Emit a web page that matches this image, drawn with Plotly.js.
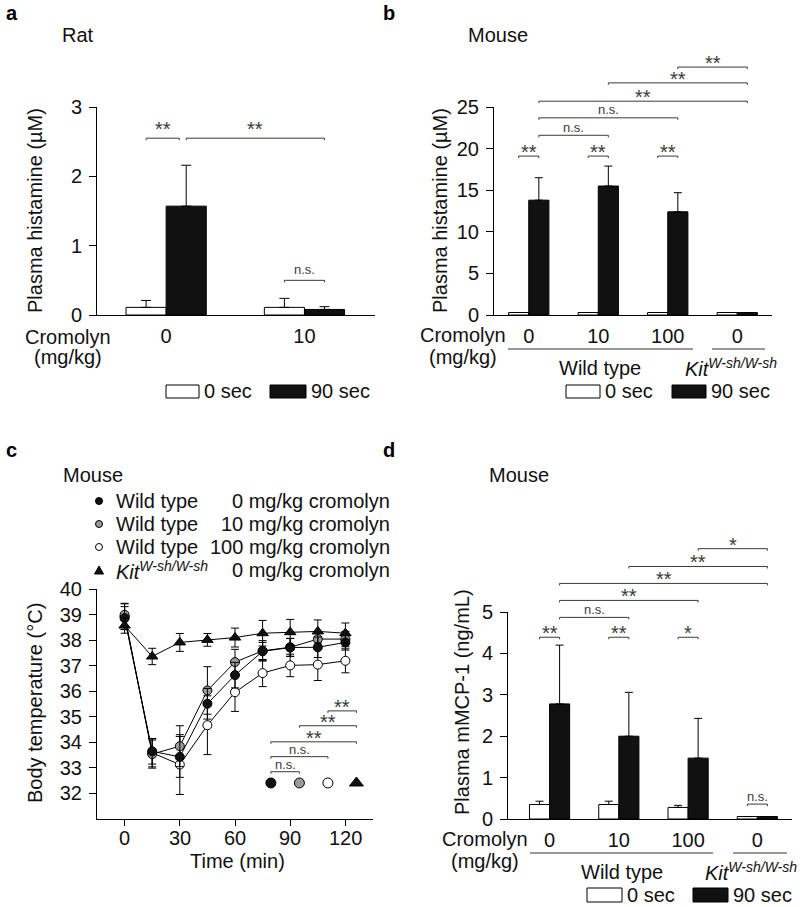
<!DOCTYPE html>
<html><head><meta charset="utf-8">
<script src="https://cdn.plot.ly/plotly-3.0.1.min.js"></script>
<style>html,body{margin:0;padding:0;background:#fff}</style>
</head><body><div id="chart" style="width:800px;height:907px"></div>
<script>
// ---------- Panel a: Rat plasma histamine (µM) ----------
const ratDoseLabels = ['0', '10'];
const ratHist0 = [0.11, 0.11];
const ratHist0Err = [0.10, 0.13];
const ratHist90 = [1.57, 0.08];
const ratHist90Err = [0.59, 0.04];

// ---------- Panel b: Mouse plasma histamine (µM) ----------
const mouseDoseLabels = ['0', '10', '100', '0'];
const mouseHist0 = [0.3, 0.3, 0.3, 0.3];
const mouseHist90 = [13.8, 15.5, 12.4, 0.3];
const mouseHist90Err = [2.7, 2.4, 2.3, 0];

// ---------- Panel c: Body temperature (°C) ----------
const timeMin = [0, 15, 30, 45, 60, 75, 90, 105, 120];
const timeTicks = [0, 30, 60, 90, 120];
const tempWT0 = [38.86, 33.65, 33.43, 35.51, 36.63, 37.56, 37.71, 37.72, 37.91];
const tempWT0Err = [0.45, 0.5, 0.8, 0.6, 0.5, 0.35, 0.35, 0.4, 0.3];
const tempWT10 = [38.99, 33.54, 33.85, 36.03, 37.14, 37.58, 37.72, 38.04, 38.04];
const tempWT10Err = [0.45, 0.55, 0.8, 0.93, 0.5, 0.4, 0.35, 0.3, 0.3];
const tempWT100 = [38.92, 33.59, 33.13, 34.67, 35.96, 36.71, 37.01, 37.04, 37.19];
const tempWT100Err = [0.5, 0.55, 1.17, 1.15, 0.75, 0.53, 0.44, 0.62, 0.47];
const tempKit = [38.57, 37.36, 37.91, 38.01, 38.10, 38.27, 38.31, 38.34, 38.27];
const tempKitErr = [0.3, 0.32, 0.35, 0.25, 0.37, 0.5, 0.5, 0.45, 0.4];

// ---------- Panel d: Plasma mMCP-1 (ng/mL) ----------
const mcpDoseLabels = ['0', '10', '100', '0'];
const mcp0 = [0.35, 0.35, 0.28, 0.06];
const mcp0Err = [0.08, 0.08, 0.05, 0];
const mcp90 = [2.78, 2.0, 1.47, 0.06];
const mcp90Err = [1.42, 1.06, 0.96, 0];

// ---------- Significance brackets: [group, bar, group, bar, level, label] ----------
const sigA = [[0, 'w', 0, 'b', 2.55, '**'], [0, 'b', 1, 'b', 2.55, '**'], [1, 'w', 1, 'b', 0.5, 'n.s.']];
const sigB = [[0, 'w', 0, 'b', 19.1, '**'], [1, 'w', 1, 'b', 19.1, '**'], [2, 'w', 2, 'b', 19.1, '**'],
              [0, 'b', 1, 'b', 21.6, 'n.s.'], [0, 'b', 2, 'b', 23.7, 'n.s.'], [0, 'b', 3, 'b', 25.7, '**'],
              [1, 'b', 3, 'b', 27.9, '**'], [2, 'b', 3, 'b', 29.8, '**']];
const sigD = [[0, 'w', 0, 'b', 4.39, '**'], [1, 'w', 1, 'b', 4.39, '**'], [2, 'w', 2, 'b', 4.39, '*'],
              [3, 'w', 3, 'b', 0.36, 'n.s.'], [0, 'b', 1, 'b', 4.87, 'n.s.'], [0, 'b', 2, 'b', 5.28, '**'],
              [0, 'b', 3, 'b', 5.69, '**'], [1, 'b', 3, 'b', 6.1, '**'], [2, 'b', 3, 'b', 6.53, '*']];
// panel c: key symbols and comparisons between them: [key, key, level, label]
const keyTimes = [79.5, 95, 110.5, 126];
const keyLevel = 32.41;
const sigC = [[0, 1, 32.85, 'n.s.'], [0, 2, 33.44, 'n.s.'], [0, 3, 34.02, '**'], [1, 3, 34.65, '**'], [2, 3, 35.23, '**']];

// ---------- helpers ----------
const FONT = 'Liberation Sans, Arial, sans-serif';
const FS = 20;
const W = 800, H = 907;
const px = x => x / W;
const py = y => 1 - y / H;
const BARGAP = 0.42;
const half = (1 - BARGAP) / 4; // offset of each bar center from group center
const barX = (g, s) => g + (s === 'w' ? -half : half);
const idx = arr => arr.map((_, i) => i);

const blackCol = '#111111';
const grayCol = '#9a9a9a';
const sigCol = '#3a3a3a';

function barPair(xa, ya, xs, y0, e0, y1, e1, capW) {
  const common = {type: 'bar', x: xs, xaxis: xa, yaxis: ya, showlegend: false, hoverinfo: 'skip'};
  return [
    Object.assign({}, common, {name: '0 sec', y: y0,
      marker: {color: '#ffffff', line: {color: '#000', width: 1}},
      error_y: e0 ? {type: 'data', array: e0, arrayminus: e0.map(() => 0), symmetric: false, color: '#000', thickness: 1, width: capW} : {visible: false}}),
    Object.assign({}, common, {name: '90 sec', y: y1,
      marker: {color: blackCol, line: {color: '#000', width: 1}},
      error_y: e1 ? {type: 'data', array: e1, arrayminus: e1.map(() => 0), symmetric: false, color: '#000', thickness: 1, width: capW} : {visible: false}})
  ];
}

const data = [];
data.push(...barPair('x', 'y', idx(ratDoseLabels), ratHist0, ratHist0Err, ratHist90, ratHist90Err, 5));
data.push(...barPair('x2', 'y2', idx(mouseDoseLabels), mouseHist0, null, mouseHist90, mouseHist90Err, 4));
data.push(...barPair('x4', 'y4', idx(mcpDoseLabels), mcp0, mcp0Err, mcp90, mcp90Err, 4));

function tempTrace(y, e, symbol, fill, size) {
  return {type: 'scatter', mode: 'lines+markers', x: timeMin, y: y, xaxis: 'x3', yaxis: 'y3',
    showlegend: false, hoverinfo: 'skip', line: {color: '#000', width: 1},
    marker: {symbol: symbol, size: size, color: fill, line: {color: '#000', width: 1}},
    error_y: {type: 'data', array: e, symmetric: true, color: '#000', thickness: 1, width: 4}};
}
data.push(tempTrace(tempWT100, tempWT100Err, 'circle', '#ffffff', 9));
data.push(tempTrace(tempWT10, tempWT10Err, 'circle', grayCol, 9));
data.push(tempTrace(tempWT0, tempWT0Err, 'circle', blackCol, 9));
data.push(tempTrace(tempKit, tempKitErr, 'triangle-up', blackCol, 10));
// key symbols in panel c
data.push({type: 'scatter', mode: 'markers', x: keyTimes, y: keyTimes.map(() => keyLevel), xaxis: 'x3', yaxis: 'y3',
  showlegend: false, hoverinfo: 'skip', cliponaxis: false,
  marker: {symbol: ['circle', 'circle', 'circle', 'triangle-up'], size: [10, 10, 10, 12], opacity: 1,
    color: [blackCol, grayCol, '#ffffff', blackCol], line: {color: '#000', width: 1}}});

const tickFont = {family: FONT, size: FS, color: '#111'};
function yAx(domTop, domBot, range, tickvals) {
  return {domain: [py(domBot), py(domTop)], range: range, tickvals: tickvals, ticks: 'outside', ticklen: 7,
    tickwidth: 1, tickcolor: '#000', showline: true, linecolor: '#000', linewidth: 1, showgrid: false,
    zeroline: false, tickfont: tickFont, ticklabelstandoff: 3, fixedrange: true};
}
function xAxBar(left, right, range, labels, anchor) {
  return {domain: [px(left), px(right)], range: range, tickvals: idx(labels), ticktext: labels, ticks: '',
    showline: true, linecolor: '#000', linewidth: 1, showgrid: false, zeroline: false, tickfont: tickFont,
    anchor: anchor, ticklabelstandoff: 3, fixedrange: true};
}

const layout = {
  width: W, height: H, margin: {l: 0, r: 0, t: 0, b: 0}, paper_bgcolor: '#fff', plot_bgcolor: 'rgba(0,0,0,0)',
  showlegend: false, barmode: 'group', bargap: BARGAP, bargroupgap: 0,
  font: {family: FONT, size: FS, color: '#111'},
  xaxis: xAxBar(97, 375, [-0.5, 1.51], ratDoseLabels, 'y'),
  yaxis: Object.assign(yAx(107, 315, [0, 3], [0, 1, 2, 3]), {anchor: 'x'}),
  xaxis2: xAxBar(494, 772, [-0.5, 3.5], mouseDoseLabels, 'y2'),
  yaxis2: Object.assign(yAx(107, 315, [0, 25], [0, 5, 10, 15, 20, 25]), {anchor: 'x2'}),
  xaxis3: {domain: [px(97), px(373)], range: [-15, 135], tickvals: timeTicks, ticks: 'outside', ticklen: 6,
    tickwidth: 1, tickcolor: '#000', showline: true, linecolor: '#000', linewidth: 1, showgrid: false, zeroline: false,
    showticklabels: false, anchor: 'y3', fixedrange: true},
  yaxis3: Object.assign(yAx(589, 819, [31, 40], [32, 33, 34, 35, 36, 37, 38, 39, 40]), {anchor: 'x3'}),
  xaxis4: xAxBar(508, 792, [-0.6, 3.5], mcpDoseLabels, 'y4'),
  yaxis4: Object.assign(yAx(612, 819, [0, 5], [0, 1, 2, 3, 4, 5]), {anchor: 'x4'}),
  shapes: [], annotations: []
};

const shapes = layout.shapes, ann = layout.annotations;
function txt(x, y, text, opts) {
  ann.push(Object.assign({xref: 'paper', yref: 'paper', x: px(x), y: py(y), text: text, showarrow: false,
    xanchor: 'left', yanchor: 'middle', font: {family: FONT, size: FS, color: '#111'}}, opts || {}));
}
// data -> paper conversion through the axis domain/range
function toPaper(ax, v) { return ax.domain[0] + (v - ax.range[0]) / (ax.range[1] - ax.range[0]) * (ax.domain[1] - ax.domain[0]); }

// time tick labels of panel c, placed on the time axis
timeTicks.forEach(t => ann.push({xref: 'paper', yref: 'paper', x: toPaper(layout.xaxis3, t), y: py(838), text: String(t),
  showarrow: false, xanchor: 'center', yanchor: 'middle', font: tickFont}));

function bracket(xax, yax, x0, x1, level, label, starOff, nsOff) {
  const X0 = toPaper(xax, x0), X1 = toPaper(xax, x1), Y = toPaper(yax, level);
  const t = 2 / H;
  shapes.push({type: 'path', xref: 'paper', yref: 'paper',
    path: `M${X0},${Y - t} L${X0},${Y} L${X1},${Y} L${X1},${Y - t}`, line: {color: sigCol, width: 1}});
  const star = label !== 'n.s.';
  ann.push({xref: 'paper', yref: 'paper', x: (X0 + X1) / 2, y: Y, text: label, showarrow: false, xanchor: 'center',
    yanchor: 'middle', yshift: star ? starOff : nsOff, font: {family: FONT, size: star ? 20 : 13, color: sigCol}});
}
sigA.forEach((s, i) => bracket(layout.xaxis, layout.yaxis, barX(s[0], s[1]), barX(s[2], s[3]) - (i === 0 ? 0.05 : 0), s[4], s[5], 9, 11));
sigB.forEach(s => bracket(layout.xaxis2, layout.yaxis2, barX(s[0], s[1]), barX(s[2], s[3]), s[4], s[5], 4, 8));
sigD.forEach(s => bracket(layout.xaxis4, layout.yaxis4, barX(s[0], s[1]), barX(s[2], s[3]), s[4], s[5], 4, 8));
sigC.forEach(s => bracket(layout.xaxis3, layout.yaxis3, keyTimes[s[0]], keyTimes[s[1]], s[2], s[3], 4, 7));

// panel letters and titles
const bold = {family: FONT, size: 20, color: '#000'};
txt(4, 13, '<b>a</b>', {font: bold});
txt(381, 13, '<b>b</b>', {font: bold});
txt(4, 450, '<b>c</b>', {font: bold});
txt(381, 450, '<b>d</b>', {font: bold});
txt(60, 35, 'Rat');
txt(466, 35, 'Mouse');
txt(61, 475, 'Mouse');
txt(487, 475, 'Mouse');

// axis titles
txt(35, 211, 'Plasma histamine (µM)', {xanchor: 'center', textangle: -90});
txt(440, 211, 'Plasma histamine (µM)', {xanchor: 'center', textangle: -90});
txt(35, 703, 'Body temperature (°C)', {xanchor: 'center', textangle: -90});
txt(462, 702, 'Plasma mMCP-1 (ng/mL)', {xanchor: 'center', textangle: -90});
txt(237, 861, 'Time (min)', {xanchor: 'center'});

// cromolyn labels
txt(68, 337, 'Cromolyn', {xanchor: 'center'});
txt(68, 357, '(mg/kg)', {xanchor: 'center'});
txt(463, 335, 'Cromolyn', {xanchor: 'center'});
txt(463, 357, '(mg/kg)', {xanchor: 'center'});
txt(485, 839, 'Cromolyn', {xanchor: 'center'});
txt(485, 861, '(mg/kg)', {xanchor: 'center'});

// genotype underlines and labels
function hline(x0, x1, y) {
  shapes.push({type: 'line', xref: 'paper', yref: 'paper', x0: px(x0), x1: px(x1), y0: py(y), y1: py(y), line: {color: '#333', width: 1}});
}
const kitLabel = '<i>Kit</i><sup><i>W-sh/W-sh</i></sup>';
hline(508, 693, 349); hline(712, 765, 349);
txt(600, 368, 'Wild type', {xanchor: 'center'});
txt(683, 367, kitLabel, {xanchor: 'left'});
hline(530, 713, 853); hline(733, 787, 853);
txt(622, 872, 'Wild type', {xanchor: 'center'});
txt(703, 871, kitLabel, {xanchor: 'left'});

// bar legends
function legBox(x0, x1, y0, y1, fill) {
  shapes.push({type: 'rect', xref: 'paper', yref: 'paper', x0: px(x0), x1: px(x1), y0: py(y1), y1: py(y0),
    fillcolor: fill, line: {color: '#000', width: 1}});
}
legBox(166, 199, 385, 398, '#fff'); txt(202, 391, '0 sec');
legBox(270, 306, 385, 398, blackCol); txt(309, 391, '90 sec');
legBox(566, 600, 385, 398, '#fff'); txt(603, 391, '0 sec');
legBox(672, 706, 385, 398, blackCol); txt(709, 391, '90 sec');
legBox(587, 622, 888, 902, '#fff'); txt(625, 895, '0 sec');
legBox(693, 728, 888, 902, blackCol); txt(731, 895, '90 sec');

// panel c legend
const legRows = [501, 524, 547, 570];
const legFill = [blackCol, grayCol, '#ffffff'];
legFill.forEach((f, i) => {
  const y = legRows[i], r = 3.5;
  shapes.push({type: 'circle', xref: 'paper', yref: 'paper', x0: px(99 - r), x1: px(99 + r), y0: py(y + r), y1: py(y - r),
    fillcolor: f, line: {color: '#000', width: 1}});
});
shapes.push({type: 'path', xref: 'paper', yref: 'paper',
  path: `M${px(94.5)},${py(574)} L${px(103.5)},${py(574)} L${px(99)},${py(566)} Z`, fillcolor: blackCol, line: {color: '#000', width: 1}});
const legGeno = ['Wild type', 'Wild type', 'Wild type', kitLabel];
const legDose = ['0 mg/kg cromolyn', '10 mg/kg cromolyn', '100 mg/kg cromolyn', '0 mg/kg cromolyn'];
legRows.forEach((y, i) => {
  txt(114, y, legGeno[i]);
  txt(392, y, legDose[i], {xanchor: 'right'});
});

Plotly.newPlot('chart', data, layout, {staticPlot: true, displayModeBar: false});
</script></body></html>
